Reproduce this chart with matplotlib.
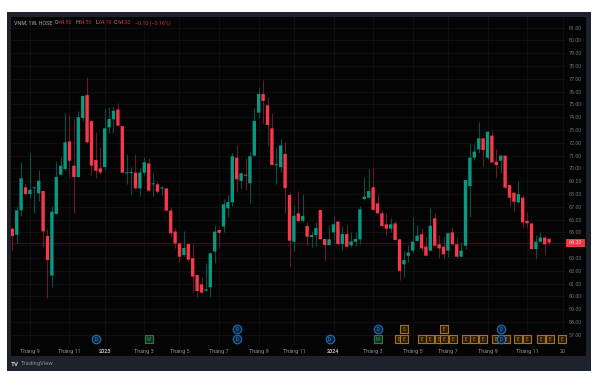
import matplotlib.pyplot as plt
from matplotlib.patches import Rectangle

W, H = 595, 374

# nen tuan VNM (doc tu hinh)
opens = [65.29, 64.82, 66.72, 68.52, 68.0, 68.45, 68.05, 68.23, 64.72, 61.62,
         66.44, 69.51, 69.95, 72.11, 70.21, 69.33, 73.94, 75.73, 73.7, 70.66,
         70.0, 70.11, 73.2, 73.84, 74.6, 73.3, 69.62, 69.64, 69.67, 68.44,
         69.67, 70.39, 68.76, 68.75, 68.43, 68.44, 66.7, 65.06, 64.14, 63.23,
         64.09, 62.98, 61.67, 60.94, 60.45, 60.71, 63.5, 65.19, 65.45, 66.88,
         67.35, 70.84, 69.02, 69.51, 68.84, 71.0, 74.36, 75.81, 74.93, 73.13,
         70.24, 70.09, 71.13, 67.92, 64.27, 66.49, 65.91, 65.5, 64.64, 64.79,
         66.75, 64.48, 64.01, 65.0, 65.84, 64.09, 64.87, 63.99, 64.27, 64.46,
         67.61, 67.71, 68.52, 67.27, 66.49, 65.63, 65.29, 65.7, 64.46, 62.5,
         63.18, 63.57, 64.33, 64.85, 63.88, 63.57, 66.1, 64.07, 63.88, 63.57,
         65.0, 64.07, 63.1, 63.96, 68.62, 70.84, 71.49, 72.35, 70.84, 72.56,
         70.52, 70.6, 71.0, 68.7, 68.1, 67.35, 67.71, 65.89, 65.7, 63.7,
         64.27, 64.59, 64.5]
highs = [65.4, 67.06, 70.5, 68.78, 71.18, 68.62, 69.87, 68.3, 65.26, 67.06,
         70.6, 70.86, 74.33, 74.17, 73.86, 74.48, 75.66, 77.14, 73.78, 72.87,
         71.64, 74.64, 74.8, 74.8, 75.1, 73.3, 71.12, 70.13, 71.12, 70.0,
         70.86, 70.79, 69.61, 69.04, 68.62, 68.44, 66.96, 65.32, 64.14, 65.13,
         64.09, 64.07, 61.67, 61.54, 62.59, 63.37, 65.58, 65.19, 67.6, 67.9,
         71.18, 71.83, 69.75, 70.84, 71.31, 74.75, 76.26, 76.91, 75.55, 74.36,
         71.57, 72.27, 72.09, 68.18, 67.14, 68.26, 68.0, 65.78, 65.13, 65.78,
         66.75, 64.48, 65.58, 66.28, 65.84, 65.5, 65.58, 65.05, 65.05, 67.06,
         69.36, 69.93, 70.14, 67.99, 66.75, 66.54, 66.1, 65.9, 64.46, 63.57,
         64.0, 66.23, 65.58, 65.37, 64.67, 66.88, 66.49, 64.8, 64.67, 65.05,
         65.45, 64.61, 64.27, 69.09, 71.9, 71.9, 73.65, 72.35, 72.92, 73.0,
         71.49, 71.05, 71.0, 68.7, 68.1, 69.0, 67.92, 66.62, 65.7, 64.8,
         65.0, 64.8, 64.5]
lows = [63.62, 64.15, 66.28, 67.92, 67.71, 66.49, 67.45, 63.88, 59.9, 60.7,
        66.44, 69.48, 69.87, 69.35, 66.49, 69.3, 73.7, 71.96, 69.48, 69.27,
        69.56, 69.87, 72.74, 72.79, 73.3, 69.65, 68.78, 67.92, 68.4, 67.84,
        69.48, 68.26, 67.84, 68.1, 67.92, 66.65, 64.67, 63.77, 62.7, 63.15,
        62.8, 60.37, 59.98, 60.25, 60.4, 59.98, 62.64, 63.81, 65.05, 66.2,
        67.1, 68.18, 68.5, 68.3, 67.32, 71.0, 73.91, 73.52, 71.75, 70.27,
        68.76, 69.75, 66.54, 62.37, 63.54, 65.85, 65.85, 64.01, 63.88, 63.93,
        64.46, 62.79, 64.01, 64.4, 64.05, 63.62, 63.88, 63.83, 63.9, 64.09,
        67.53, 67.65, 66.75, 66.49, 65.39, 64.79, 65.0, 64.4, 61.28, 61.5,
        62.71, 63.36, 64.3, 63.62, 63.18, 63.57, 63.96, 62.97, 62.89, 63.1,
        64.05, 63.0, 63.05, 63.7, 66.23, 70.66, 71.18, 70.21, 70.7, 70.47,
        69.3, 69.61, 68.45, 67.06, 66.7, 67.3, 65.32, 65.32, 63.7, 62.89,
        64.27, 63.23, 64.1]
closes = [64.72, 66.72, 69.22, 68.0, 68.34, 68.5, 69.04, 65.08, 62.84, 66.62,
          69.33, 70.21, 72.04, 70.6, 69.33, 74.0, 75.66, 72.04, 70.21, 69.82,
          69.69, 73.13, 73.86, 74.5, 73.34, 69.67, 69.67, 69.67, 68.44, 69.67,
          70.47, 68.26, 68.8, 68.18, 68.47, 66.7, 64.93, 64.14, 63.1, 63.78,
          62.87, 61.54, 60.42, 60.29, 60.55, 63.37, 65.06, 64.96, 67.19, 67.37,
          70.95, 69.15, 69.62, 69.43, 70.95, 73.71, 75.81, 75.27, 73.39, 70.27,
          70.32, 71.8, 68.45, 64.35, 66.3, 65.89, 66.28, 64.66, 64.79, 65.34,
          64.46, 64.01, 64.46, 65.63, 64.09, 64.87, 63.88, 64.3, 64.48, 66.8,
          67.79, 68.23, 66.75, 66.49, 65.5, 65.29, 65.63, 64.4, 62.0, 62.84,
          63.42, 64.27, 64.74, 63.75, 63.18, 65.52, 63.96, 63.75, 63.29, 64.93,
          64.07, 63.1, 63.57, 69.09, 70.84, 71.31, 72.35, 71.44, 72.87, 70.47,
          70.26, 71.0, 68.49, 67.71, 67.4, 68.0, 65.79, 65.71, 63.7, 64.27,
          64.59, 64.07, 64.2]

price_ticks = list(range(57, 82))
time_pos = [4, 13, 21, 30, 38, 47, 56, 64, 73, 82, 91, 99, 108, 117, 125.1]
time_labels = ["Tháng 9", "Tháng 11", "2023", "Tháng 3", "Tháng 5", "Tháng 7", "Tháng 9",
               "Tháng 11", "2024", "Tháng 3", "Tháng 5", "Tháng 7", "Tháng 9", "Tháng 11", "20"]
last_price = 64.20

# su kien duoi day bieu do
low_row, up_row = 56.63, 57.45
div_low = [19.1, 51.1, 72.1, 111]
div_up = [51.1, 83.1, 111]
mid_low = [31.07, 83.1]
earn_low = [87.9, 89.1, 93, 95, 97, 98.2, 100.1, 103, 105, 107, 110, 112.2, 115, 117, 120.1, 122.1, 125]
earn_up = [98]
split_up = [89]

GREEN, RED = "#089981", "#f7384b"
GREEN_W, RED_W = "#0a4f44", "#6a1a24"

plt.rcParams['font.family'] = ['Roboto', 'DejaVu Sans']

fig = plt.figure(figsize=(W / 100, H / 100), dpi=100, facecolor="white")


def box(x0, y0, x1, y1, color, z=-1):
    # toa do pixel, goc tren trai
    fig.add_artist(Rectangle((x0 / W, 1 - y1 / H), (x1 - x0) / W, (y1 - y0) / H,
                             transform=fig.transFigure, color=color, lw=0, zorder=z))


def label(x, y, s, color, size=3.9, **kw):
    fig.text(x / W, 1 - y / H, s, color=color, fontsize=size, va="center", **kw)


box(7, 12, 591, 371, "#1e222d", -2)
box(11, 17, 586, 356, "#040405", -1)

ax = fig.add_axes([11 / W, 1 - 345 / H, 555 / W, 328 / H], facecolor="none")
ax.set_xlim(-0.295, 125.84)
ax.set_ylim(56.2, 81.83)
for s in ax.spines.values():
    s.set_visible(False)

ax.set_yticks(price_ticks)
# 64.00 nam duoi nhan gia cuoi
ax.set_yticklabels([f"{p:.2f}" if p != 64 else "" for p in price_ticks])
ax.yaxis.tick_right()
ax.tick_params(axis="y", length=0, pad=2.2, labelsize=3.9, labelcolor="#6d717c")
ax.set_xticks(time_pos)
ax.set_xticklabels(time_labels)
ax.tick_params(axis="x", length=0, pad=2.6, labelsize=3.9, labelcolor="#8b8f99")
for t in ax.get_xticklabels():
    if t.get_text() in ("2023", "2024"):
        t.set_fontweight("bold")
        t.set_color("#b4b6bc")
ax.grid(True, color="#101116", lw=0.6)
ax.set_axisbelow(True)

# gia cuoi
ax.axhline(last_price, color="#3d0e16", lw=0.8, zorder=1)

for i in range(len(opens)):
    up = closes[i] >= opens[i]
    ax.vlines(i, lows[i], highs[i], color=GREEN_W if up else RED_W, lw=0.8, zorder=2)
    bottom = min(opens[i], closes[i])
    h = max(abs(closes[i] - opens[i]), 0.07)
    ax.bar(i, h, bottom=bottom, width=0.76, color=GREEN if up else RED, lw=0, zorder=3, snap=False)


def events(xs, y, marker, size, face, edge, s, tc):
    ax.scatter(xs, [y] * len(xs), marker=marker, s=size, facecolor=face, edgecolor=edge,
               linewidths=0.8, zorder=4, clip_on=False)
    for x in xs:
        ax.text(x, y, s, color=tc, fontsize=3.3, ha="center", va="center", zorder=5)


events(earn_low, low_row, "s", 28, "#2a1c06", "#a8701c", "E", "#c48a30")
events(earn_up, up_row, "s", 28, "#2a1c06", "#a8701c", "E", "#c48a30")
events(split_up, up_row, "s", 28, "#2a1c06", "#a8701c", "S", "#c48a30")
events(div_low, low_row, "o", 38, "#0c2440", "#1b6fb5", "D", "#3f8fd0")
events(div_up, up_row, "o", 38, "#0c2440", "#1b6fb5", "D", "#3f8fd0")
events(mid_low, low_row, "s", 28, "#10301c", "#2a7a48", "M", "#3a9a60")

# nhan gia cuoi
box(565.7, 239, 585, 246.5, "#f23645", 2)
label(575.3, 242.8, "64.20", "#ffc4c8", ha="center")

# dong OHLC
label(14, 22.7, "VNM, 1W, HOSE", "#a9acb3")
for x, s, c in [(55, "O", "#a9acb3"), (58.7, "64.50", "#c4313f"), (75, "H", "#a9acb3"),
                (78.2, "64.50", "#c4313f"), (95.7, "L", "#a9acb3"), (98.5, "64.10", "#c4313f"),
                (114, "C", "#a9acb3"), (117.3, "64.20", "#c4313f"),
                (134.7, "−0.10 (−0.16%)", "#c4313f")]:
    label(x, 22.7, s, c)

label(11, 364, "TV", "#c8cad0", size=4.6, fontweight="bold")
label(21, 364, "TradingView", "#878b95", size=4.2)

fig.savefig("out.png", dpi=100)
